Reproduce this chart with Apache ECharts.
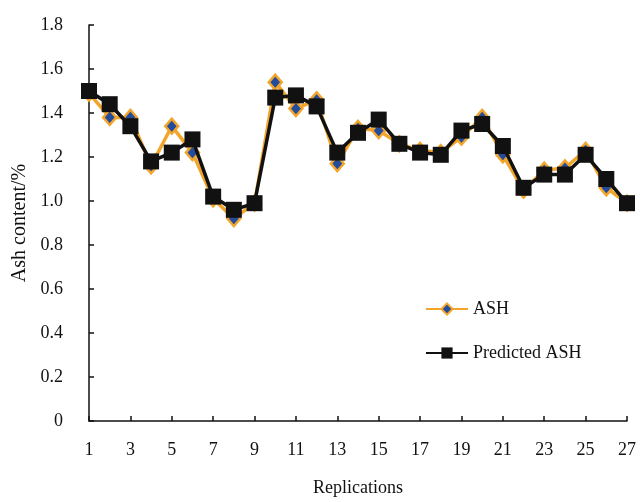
<!DOCTYPE html>
<html>
<head>
<meta charset="utf-8">
<script src="https://cdn.jsdelivr.net/npm/echarts@6/dist/echarts.min.js"></script>
<style>html,body{margin:0;padding:0;background:#fff}#c{width:641px;height:502px}</style>
</head>
<body>
<div id="c"></div>
<script>
const categories = ['1','2','3','4','5','6','7','8','9','10','11','12','13','14','15','16','17','18','19','20','21','22','23','24','25','26','27'];
const ash = [1.49,1.38,1.38,1.16,1.34,1.22,1.01,0.92,0.99,1.54,1.42,1.46,1.17,1.33,1.32,1.26,1.23,1.22,1.29,1.38,1.21,1.05,1.14,1.15,1.23,1.06,0.99];
const predicted = [1.50,1.44,1.34,1.18,1.22,1.28,1.02,0.96,0.99,1.47,1.48,1.43,1.22,1.31,1.37,1.26,1.22,1.21,1.32,1.35,1.25,1.06,1.12,1.12,1.21,1.10,0.99];
const seriesNames = ['ASH','Predicted ASH'];

const font = 'Liberation Serif';
const chart = echarts.init(document.getElementById('c'));
chart.setOption({
  animation: false,
  backgroundColor: '#fff',
  grid: {left: 89, right: 14, top: 25, bottom: 78},
  legend: {
    orient: 'vertical', left: 420, top: 295, itemGap: 26,
    itemWidth: 42, itemHeight: 14,
    textStyle: {fontFamily: font, fontSize: 18, color: '#111'},
    data: seriesNames
  },
  xAxis: {
    type: 'category', data: categories, boundaryGap: false,
    name: 'Replications', nameLocation: 'middle', nameGap: 58,
    nameTextStyle: {fontFamily: font, fontSize: 18, color: '#111'},
    axisLine: {lineStyle: {color: '#111', width: 1.5}},
    axisTick: {inside: true, length: 5, interval: 1, lineStyle: {color: '#111', width: 1.5}},
    axisLabel: {interval: 1, margin: 20, fontFamily: font, fontSize: 18, color: '#111'},
    splitLine: {show: false}
  },
  yAxis: {
    type: 'value', min: 0, max: 1.8, interval: 0.2,
    name: 'Ash content/%', nameLocation: 'middle', nameGap: 57,
    nameTextStyle: {fontFamily: font, fontSize: 20, color: '#111'},
    axisLine: {show: true, lineStyle: {color: '#111', width: 1.5}},
    axisTick: {show: true, inside: true, length: 5, lineStyle: {color: '#111', width: 1.5}},
    axisLabel: {margin: 26, fontFamily: font, fontSize: 18, color: '#111',
      formatter: v => v === 0 ? '0' : v.toFixed(1)},
    splitLine: {show: false}
  },
  series: [
    {
      name: seriesNames[0], type: 'line', data: ash, showAllSymbol: true,
      symbol: 'diamond', symbolSize: [13, 15],
      lineStyle: {color: '#F2A52A', width: 3.5},
      itemStyle: {color: '#244C9C', borderColor: '#F2A52A', borderWidth: 2.5},
      z: 2
    },
    {
      name: seriesNames[1], type: 'line', data: predicted, showAllSymbol: true,
      symbol: 'rect', symbolSize: 16,
      lineStyle: {color: '#111', width: 3.5},
      itemStyle: {color: '#111', borderColor: '#111', borderWidth: 0},
      z: 3
    }
  ]
});
</script>
</body>
</html>
